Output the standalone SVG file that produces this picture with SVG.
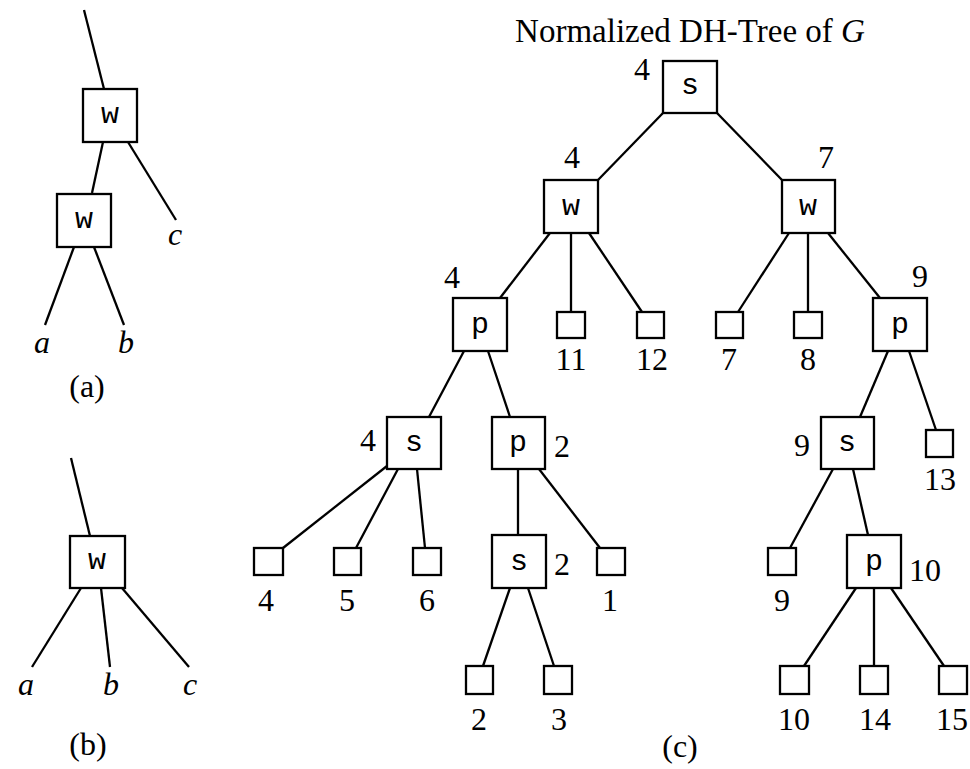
<svg xmlns="http://www.w3.org/2000/svg" width="970" height="769" viewBox="0 0 970 769">
  <style>
    .box { fill: #fff; stroke: #000; stroke-width: 2.3; }
    .edge { stroke: #000; stroke-width: 2.3; fill: none; }
    .num { font-family: "Liberation Serif", "Times New Roman", serif; font-size: 32px; text-anchor: middle; fill: #000; }
    .var { font-family: "Liberation Serif", "Times New Roman", serif; font-size: 32px; font-style: italic; text-anchor: middle; fill: #000; }
    .op { font-family: "Liberation Mono", "Courier New", monospace; font-size: 30px; text-anchor: middle; fill: #000; }
    .title { font-family: "Liberation Serif", "Times New Roman", serif; font-size: 33px; text-anchor: middle; fill: #000; }
  </style>
  <rect width="970" height="769" fill="#fff"/>

  <!-- (a): nested w nodes -->
  <g id="edges-a">
    <line class="edge" x1="84" y1="10" x2="104" y2="89"/>
    <line class="edge" x1="103" y1="142" x2="92" y2="193"/>
    <line class="edge" x1="128" y1="142" x2="176" y2="220"/>
    <line class="edge" x1="74" y1="247" x2="45" y2="325"/>
    <line class="edge" x1="94" y1="247" x2="124" y2="325"/>
  </g>
  <g id="a-w1"><rect class="box" x="83" y="89" width="54" height="53"/><text class="op" x="110" y="123">w</text></g>
  <g id="a-w2"><rect class="box" x="57" y="194" width="54" height="53"/><text class="op" x="84" y="228">w</text></g>
  <text class="var" x="175" y="245">c</text>
  <text class="var" x="42" y="353">a</text>
  <text class="var" x="126" y="353">b</text>
  <text class="num" x="87" y="397">(a)</text>

  <!-- (b): single w node -->
  <g id="edges-b">
    <line class="edge" x1="71" y1="458" x2="90" y2="536"/>
    <line class="edge" x1="81" y1="588" x2="32" y2="667"/>
    <line class="edge" x1="101" y1="588" x2="110" y2="667"/>
    <line class="edge" x1="122" y1="588" x2="189" y2="667"/>
  </g>
  <g id="b-w"><rect class="box" x="70" y="536" width="55" height="52"/><text class="op" x="97" y="569">w</text></g>
  <text class="var" x="26" y="695">a</text>
  <text class="var" x="111" y="695">b</text>
  <text class="var" x="190" y="695">c</text>
  <text class="num" x="88" y="755">(b)</text>

  <!-- (c): normalized DH-tree -->
  <text class="title" x="690" y="42">Normalized DH-Tree of <tspan font-style="italic">G</tspan></text>

  <g id="edges-c">
    <line class="edge" x1="663" y1="113" x2="598" y2="180"/>
    <line class="edge" x1="717" y1="113" x2="782" y2="180"/>
    <line class="edge" x1="550" y1="233" x2="500" y2="298"/>
    <line class="edge" x1="571" y1="233" x2="571" y2="312"/>
    <line class="edge" x1="589" y1="233" x2="642" y2="312"/>
    <line class="edge" x1="789" y1="233" x2="738" y2="312"/>
    <line class="edge" x1="808" y1="233" x2="808" y2="312"/>
    <line class="edge" x1="828" y1="233" x2="880" y2="298"/>
    <line class="edge" x1="464" y1="351" x2="429" y2="417"/>
    <line class="edge" x1="488" y1="351" x2="510" y2="417"/>
    <line class="edge" x1="888" y1="351" x2="860" y2="417"/>
    <line class="edge" x1="909" y1="351" x2="936" y2="430"/>
    <line class="edge" x1="387" y1="466" x2="283" y2="548"/>
    <line class="edge" x1="398" y1="469" x2="356" y2="548"/>
    <line class="edge" x1="417" y1="469" x2="425" y2="548"/>
    <line class="edge" x1="518" y1="469" x2="518" y2="535"/>
    <line class="edge" x1="539" y1="469" x2="600" y2="548"/>
    <line class="edge" x1="833" y1="469" x2="790" y2="548"/>
    <line class="edge" x1="853" y1="469" x2="868" y2="535"/>
    <line class="edge" x1="510" y1="588" x2="483" y2="666"/>
    <line class="edge" x1="528" y1="588" x2="554" y2="666"/>
    <line class="edge" x1="856" y1="588" x2="804" y2="666"/>
    <line class="edge" x1="874" y1="588" x2="874" y2="666"/>
    <line class="edge" x1="891" y1="588" x2="944" y2="666"/>
  </g>

  <!-- internal nodes -->
  <g id="root-s"><rect class="box" x="663" y="61" width="54" height="52"/><text class="op" x="690" y="94">s</text><text class="num" x="642" y="80">4</text></g>
  <g id="w-left"><rect class="box" x="544" y="180" width="54" height="53"/><text class="op" x="571" y="215">w</text><text class="num" x="572" y="168">4</text></g>
  <g id="w-right"><rect class="box" x="782" y="180" width="53" height="53"/><text class="op" x="808" y="215">w</text><text class="num" x="826" y="168">7</text></g>
  <g id="p-left"><rect class="box" x="453" y="298" width="54" height="53"/><text class="op" x="480" y="333">p</text><text class="num" x="452" y="288">4</text></g>
  <g id="p-right"><rect class="box" x="873" y="298" width="54" height="53"/><text class="op" x="900" y="333">p</text><text class="num" x="920" y="287">9</text></g>
  <g id="s-left"><rect class="box" x="387" y="417" width="54" height="52"/><text class="op" x="414" y="451">s</text><text class="num" x="368" y="451">4</text></g>
  <g id="p-mid"><rect class="box" x="492" y="417" width="53" height="52"/><text class="op" x="518" y="451">p</text><text class="num" x="562" y="457">2</text></g>
  <g id="s-right"><rect class="box" x="821" y="417" width="53" height="52"/><text class="op" x="847" y="451">s</text><text class="num" x="802" y="456">9</text></g>
  <g id="s-mid"><rect class="box" x="492" y="535" width="54" height="53"/><text class="op" x="519" y="570">s</text><text class="num" x="562" y="575">2</text></g>
  <g id="p-low"><rect class="box" x="847" y="535" width="54" height="53"/><text class="op" x="874" y="570">p</text><text class="num" x="925" y="581">10</text></g>

  <!-- leaves -->
  <g id="leaf-11"><rect class="box" x="557" y="312" width="28" height="26"/><text class="num" x="571" y="370">11</text></g>
  <g id="leaf-12"><rect class="box" x="637" y="312" width="27" height="26"/><text class="num" x="652" y="370">12</text></g>
  <g id="leaf-7"><rect class="box" x="716" y="312" width="27" height="26"/><text class="num" x="729" y="370">7</text></g>
  <g id="leaf-8"><rect class="box" x="794" y="312" width="28" height="26"/><text class="num" x="808" y="370">8</text></g>
  <g id="leaf-13"><rect class="box" x="926" y="430" width="27" height="27"/><text class="num" x="940" y="490">13</text></g>
  <g id="leaf-4"><rect class="box" x="254" y="548" width="29" height="27"/><text class="num" x="266" y="611">4</text></g>
  <g id="leaf-5"><rect class="box" x="334" y="548" width="27" height="27"/><text class="num" x="347" y="611">5</text></g>
  <g id="leaf-6"><rect class="box" x="413" y="548" width="28" height="27"/><text class="num" x="427" y="611">6</text></g>
  <g id="leaf-1"><rect class="box" x="597" y="548" width="28" height="27"/><text class="num" x="610" y="611">1</text></g>
  <g id="leaf-9"><rect class="box" x="768" y="548" width="28" height="27"/><text class="num" x="782" y="611">9</text></g>
  <g id="leaf-2"><rect class="box" x="466" y="666" width="27" height="28"/><text class="num" x="479" y="730">2</text></g>
  <g id="leaf-3"><rect class="box" x="544" y="666" width="28" height="28"/><text class="num" x="559" y="730">3</text></g>
  <g id="leaf-10"><rect class="box" x="780" y="666" width="29" height="28"/><text class="num" x="794" y="730">10</text></g>
  <g id="leaf-14"><rect class="box" x="860" y="666" width="28" height="28"/><text class="num" x="875" y="730">14</text></g>
  <g id="leaf-15"><rect class="box" x="939" y="666" width="28" height="28"/><text class="num" x="952" y="730">15</text></g>

  <text class="num" x="680" y="757">(c)</text>
</svg>
